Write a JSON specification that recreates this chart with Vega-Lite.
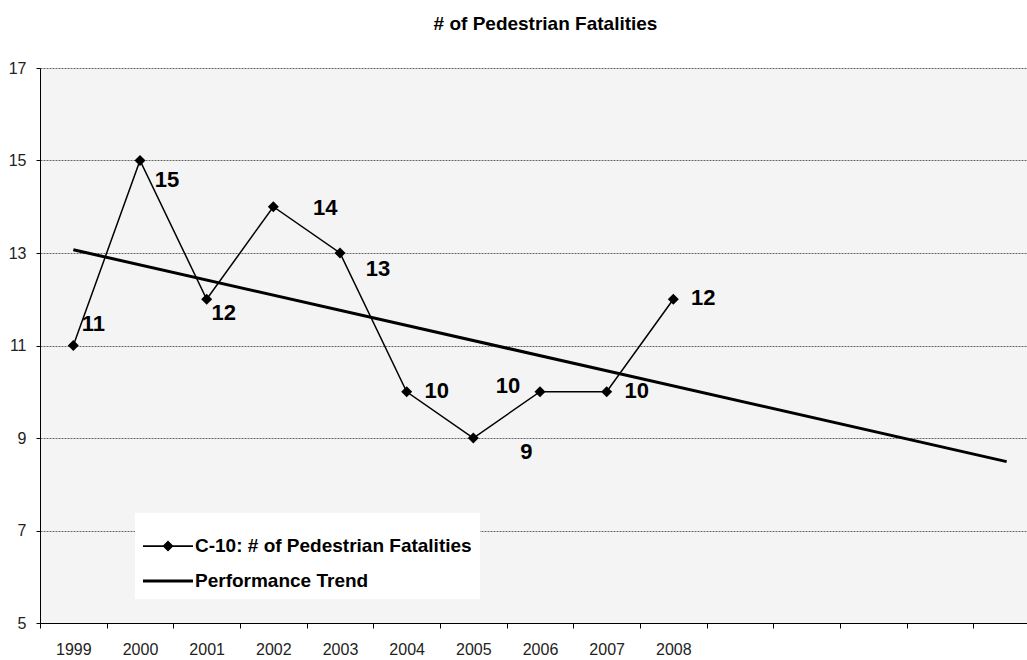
{
  "$schema": "https://vega.github.io/schema/vega-lite/v6.json",
  "autosize": "none",
  "width": 987,
  "height": 555,
  "padding": {"left": 40, "top": 68, "right": 0, "bottom": 37},
  "background": "white",
  "title": {"text": "# of Pedestrian Fatalities", "font": "Liberation Sans", "fontSize": 19, "fontWeight": "bold", "color": "black", "offset": 26, "dx": 12},
  "config": {"view": {"stroke": null, "fill": "#f4f4f4"}, "font": "Liberation Sans"},
  "data": {"values": [
    {"year": "1999", "value": 11, "series": "C-10: # of Pedestrian Fatalities"},
    {"year": "2000", "value": 15, "series": "C-10: # of Pedestrian Fatalities"},
    {"year": "2001", "value": 12, "series": "C-10: # of Pedestrian Fatalities"},
    {"year": "2002", "value": 14, "series": "C-10: # of Pedestrian Fatalities"},
    {"year": "2003", "value": 13, "series": "C-10: # of Pedestrian Fatalities"},
    {"year": "2004", "value": 10, "series": "C-10: # of Pedestrian Fatalities"},
    {"year": "2005", "value": 9, "series": "C-10: # of Pedestrian Fatalities"},
    {"year": "2006", "value": 10, "series": "C-10: # of Pedestrian Fatalities"},
    {"year": "2007", "value": 10, "series": "C-10: # of Pedestrian Fatalities"},
    {"year": "2008", "value": 12, "series": "C-10: # of Pedestrian Fatalities"},
    {"year": "1999", "value": 13.07, "series": "Performance Trend"},
    {"year": "2013", "value": 8.49, "series": "Performance Trend"}
  ]},
  "encoding": {
    "x": {
      "field": "year", "type": "ordinal",
      "scale": {"domain": ["1999","2000","2001","2002","2003","2004","2005","2006","2007","2008","2009","2010","2011","2012","2013"], "range": [0, 1000], "paddingInner": 0, "paddingOuter": 0},
      "axis": {"title": null, "labelAngle": 0, "tickBand": "extent", "labelExpr": "toNumber(datum.value) <= 2008 ? datum.value : ''", "domainColor": "black", "tickColor": "black", "tickSize": 5, "labelFont": "Liberation Sans", "labelFontSize": 16, "labelColor": "#222", "labelPadding": 13, "grid": false}
    },
    "y": {
      "field": "value", "type": "quantitative",
      "scale": {"domain": [5, 17], "nice": false, "zero": false},
      "axis": {"title": null, "values": [5, 7, 9, 11, 13, 15, 17], "grid": true, "gridColor": "#666", "gridDash": [2, 1], "domainColor": "black", "tickColor": "black", "tickSize": 4, "labelFont": "Liberation Sans", "labelFontSize": 16, "labelColor": "#222", "labelPadding": 10}
    }
  },
  "layer": [
    {
      "transform": [{"filter": "datum.series === 'Performance Trend'"}],
      "mark": {"type": "line", "color": "black", "strokeWidth": 3},
      "encoding": {}
    },
    {
      "transform": [{"filter": "false"}],
      "mark": {"type": "point", "filled": true, "color": "black", "size": 2500, "strokeWidth": 0, "opacity": 1},
      "encoding": {
        "shape": {
          "field": "series", "type": "nominal",
          "scale": {"domain": ["C-10: # of Pedestrian Fatalities", "Performance Trend"], "range": ["M-1,-0.035H1V0.035H-1Z M-0.22,0L0,-0.22L0.22,0L0,0.22Z", "M-1,-0.06H1V0.06H-1Z"]},
          "legend": {
            "title": null, "orient": "none", "legendX": 95, "legendY": 445,
            "symbolSize": 2500, "labelFont": "Liberation Sans", "labelFontSize": 19, "labelFontWeight": "bold", "labelColor": "black", "labelLimit": 500,
            "symbolFillColor": "black", "symbolOpacity": 1, "symbolStrokeWidth": 0,
            "fillColor": "white", "padding": 8, "rowPadding": -12, "labelOffset": 2
          }
        }
      }
    },
    {
      "transform": [{"filter": "datum.series !== 'Performance Trend'"}],
      "layer": [
        {"mark": {"type": "line", "color": "black", "strokeWidth": 1.5}, "encoding": {}},
        {"mark": {"type": "point", "shape": "diamond", "filled": true, "color": "black", "size": 121, "opacity": 1}},
        {"transform": [{"filter": {"field": "year", "oneOf": ["1999"]}}], "mark": {"type": "text", "fontSize": 22, "fontWeight": "bold", "color": "black", "dx": 20, "dy": -22}, "encoding": {"text": {"field": "value"}}},
        {"transform": [{"filter": {"field": "year", "oneOf": ["2000"]}}], "mark": {"type": "text", "fontSize": 22, "fontWeight": "bold", "color": "black", "dx": 27, "dy": 19}, "encoding": {"text": {"field": "value"}}},
        {"transform": [{"filter": {"field": "year", "oneOf": ["2001"]}}], "mark": {"type": "text", "fontSize": 22, "fontWeight": "bold", "color": "black", "dx": 17, "dy": 14}, "encoding": {"text": {"field": "value"}}},
        {"transform": [{"filter": {"field": "year", "oneOf": ["2002"]}}], "mark": {"type": "text", "fontSize": 22, "fontWeight": "bold", "color": "black", "dx": 52, "dy": 1}, "encoding": {"text": {"field": "value"}}},
        {"transform": [{"filter": {"field": "year", "oneOf": ["2003"]}}], "mark": {"type": "text", "fontSize": 22, "fontWeight": "bold", "color": "black", "dx": 38, "dy": 16}, "encoding": {"text": {"field": "value"}}},
        {"transform": [{"filter": {"field": "year", "oneOf": ["2004", "2007", "2008"]}}], "mark": {"type": "text", "fontSize": 22, "fontWeight": "bold", "color": "black", "dx": 30, "dy": -1}, "encoding": {"text": {"field": "value"}}},
        {"transform": [{"filter": {"field": "year", "oneOf": ["2005"]}}], "mark": {"type": "text", "fontSize": 22, "fontWeight": "bold", "color": "black", "dx": 53, "dy": 14}, "encoding": {"text": {"field": "value"}}},
        {"transform": [{"filter": {"field": "year", "oneOf": ["2006"]}}], "mark": {"type": "text", "fontSize": 22, "fontWeight": "bold", "color": "black", "dx": -32, "dy": -6}, "encoding": {"text": {"field": "value"}}}
      ]
    }
  ]
}
